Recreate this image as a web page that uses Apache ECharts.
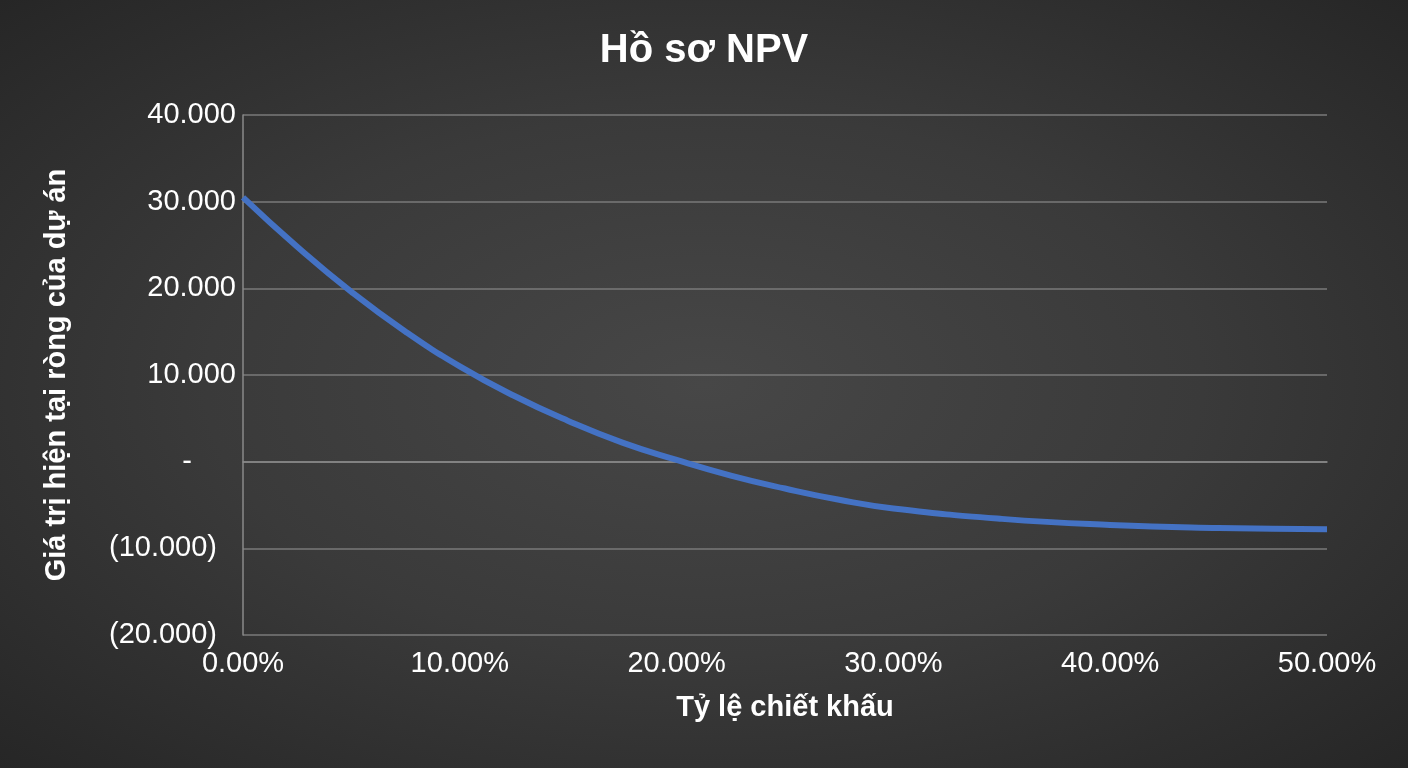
<!DOCTYPE html>
<html><head><meta charset="utf-8">
<script src="https://cdn.jsdelivr.net/npm/echarts@6/dist/echarts.min.js"></script>
<style>html,body{margin:0;padding:0;}#c{width:1408px;height:768px;background:radial-gradient(ellipse at center,#474747 0%,#3a3a3a 50%,#262626 100%);}</style>
</head><body><div id="c"></div>
<script>
const rates = [0, 0.025, 0.05, 0.075, 0.10, 0.125, 0.15, 0.175, 0.20, 0.225, 0.25, 0.275, 0.30, 0.35, 0.40, 0.45, 0.50];
const npv = [30500, 24800, 19600, 15000, 11000, 7600, 4700, 2200, 200, -1600, -3100, -4400, -5400, -6600, -7300, -7650, -7800];
const title = 'Hồ sơ NPV';
const xName = 'Tỷ lệ chiết khấu';
const yName = 'Giá trị hiện tại ròng của dự án';
function fmtY(v){
  if (v === 0) return '{z|-}';
  const s = Math.abs(v).toLocaleString('de-DE');
  return v < 0 ? '{n|(' + s + ')}' : '{p|' + s + '}';
}
const lab = {color: '#fff', fontSize: 29};
const chart = echarts.init(document.getElementById('c'), null, {renderer:'canvas'});
chart.setOption({
  backgroundColor: 'transparent',
  textStyle: {fontFamily: 'Liberation Sans'},
  title: {text: title, left: 'center', top: 26, textStyle: {color: '#fff', fontSize: 40, fontWeight: 'bold', fontFamily: 'Liberation Sans'}},
  grid: {left: 243, right: 81, top: 115, bottom: 133},
  xAxis: {
    type: 'value', min: 0, max: 0.5, interval: 0.1,
    name: xName, nameLocation: 'middle', nameGap: 58,
    nameTextStyle: {color: '#fff', fontSize: 29, fontWeight: 'bold'},
    axisLine: {show: true, lineStyle: {color: '#8a8a8a', width: 1.5}},
    axisTick: {show: false}, splitLine: {show: false},
    axisLabel: {color: '#fff', fontSize: 29, margin: 14, formatter: v => (v*100).toFixed(2) + '%'}
  },
  yAxis: {
    type: 'value', min: -20000, max: 40000, interval: 10000,
    name: yName, nameLocation: 'middle', nameGap: 172,
    nameTextStyle: {color: '#fff', fontSize: 29, fontWeight: 'bold'},
    axisLine: {show: true, lineStyle: {color: '#8a8a8a', width: 1.5}},
    axisTick: {show: false},
    splitLine: {lineStyle: {color: '#7a7a7a', width: 1.5}},
    axisLabel: {margin: 7, formatter: fmtY, rich: {
      p: Object.assign({}, lab),
      n: Object.assign({padding: [0, 19, 0, 0]}, lab),
      z: Object.assign({padding: [0, 44, 0, 0]}, lab)
    }}
  },
  series: [{
    type: 'line', smooth: true, showSymbol: false,
    data: rates.map((r, i) => [r, npv[i]]),
    lineStyle: {color: '#4472C4', width: 6}
  }]
});
</script></body></html>
